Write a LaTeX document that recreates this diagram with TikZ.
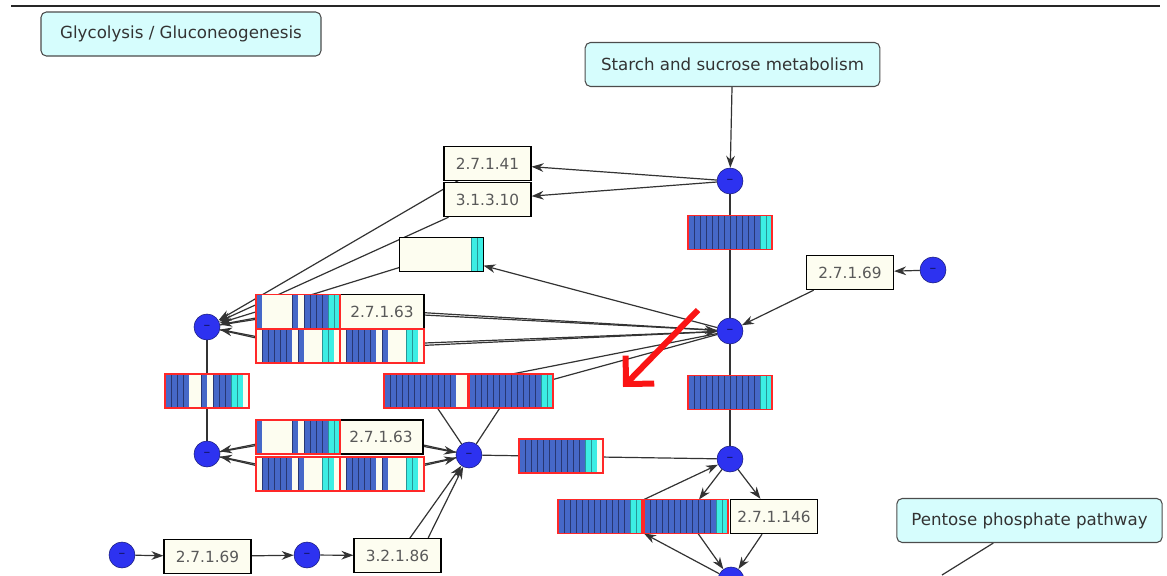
\documentclass[tikz,border=0pt]{standalone}
\usepackage{fontspec}
\setmainfont{DejaVu Sans}
\usetikzlibrary{arrows.meta,backgrounds}

\definecolor{kb}{RGB}{70,104,200}
\definecolor{lb}{RGB}{40,55,115}
\definecolor{kc}{RGB}{60,238,228}
\definecolor{lc}{RGB}{40,150,150}
\definecolor{kw}{RGB}{253,253,240}
\definecolor{lw}{RGB}{253,253,240}
\definecolor{metblue}{RGB}{45,50,240}
\definecolor{pwcyan}{RGB}{214,253,253}
\definecolor{barred}{RGB}{255,40,40}
\definecolor{markred}{RGB}{250,20,20}

\tikzset{
  pathway/.style={draw=black!70, fill=pwcyan, rounded corners=4pt, line width=0.8pt, text=black!80, font=\fontsize{12.5}{15}\selectfont, minimum height=33pt, inner sep=0pt},
  ec/.style={draw=black, fill=kw, line width=1.1pt, text=black!65, font=\fontsize{11.5}{14}\selectfont, minimum width=65pt, minimum height=25.5pt, inner sep=0pt},
  met/.style={circle, draw=black!50!metblue, fill=metblue, minimum size=19.5pt, inner sep=0pt, text=black!60!metblue, font=\normalsize},
  ecbar/.style={minimum width=63pt, minimum height=25.5pt, inner sep=0pt, outer sep=0pt},
  stripe/.style={fill=k#1, draw=l#1, line width=0.4pt},
  rxn/.style={draw=black!80, line width=0.9pt},
}

% bar of enzyme stripes: [border colour]{name}{x}{y}{stripe list}
\newcommand{\ecbar}[5][barred]{%
  \node[ecbar] (#2) at (#3,#4) {};
  \begin{scope}[shift={(#2.north west)}]
    \foreach \s [count=\i from 0] in {#5}
      \path[stripe=\s] (\i*6,0) rectangle ++(6,34);
  \end{scope}
  \draw[draw=#1, line width=1pt] (#2.north west) rectangle (#2.south east);
}

\begin{document}
\begin{tikzpicture}[x=0.75pt,y=0.75pt,yscale=-1,xscale=1,>={Stealth[length=9pt,width=6.5pt]}]
\useasboundingbox (0,0) rectangle (1167,575);
\clip (0,0) rectangle (1167,575);

%Straight Lines: rule at the top
\draw[black!85, line width=1.5pt] (11,6) -- (1160,6);

% Pathway boxes
\node[pathway, minimum width=210pt] (glyco) at (181,34) {Glycolysis / Gluconeogenesis};
\node[pathway, minimum width=221pt] (starch) at (732.5,64.5) {Starch and sucrose metabolism};
\node[pathway, minimum width=199pt] (pentose) at (1029.5,520.5) {Pentose phosphate pathway};

% Compounds
\node[met] (c1) at (730,181) {\textendash};
\node[met] (c2) at (933,270) {\textendash};
\node[met] (c3) at (730,331) {\textendash};
\node[met] (c4) at (207,327) {\textendash};
\node[met] (c5) at (207,454) {\textendash};
\node[met] (c6) at (469,455) {\textendash};
\node[met] (c7) at (730,459) {\textendash};
\node[met] (c8) at (731,580) {};
\node[met] (c9) at (122,555) {\textendash};
\node[met] (c10) at (307,555) {\textendash};

% Enzyme boxes
\node[ec] (ec41) at (487.5,163.5) {2.7.1.41};
\node[ec] (ec10) at (487.5,199.5) {3.1.3.10};
\node[ec] (ec69r) at (850,272.5) {2.7.1.69};
\node[ec, minimum width=63pt] (ec63a) at (382,311.5) {2.7.1.63};
\node[ec, minimum width=63pt] (ec63b) at (381,437) {2.7.1.63};
\node[ec] (ec146) at (774,516.5) {2.7.1.146};
\node[ec] (ec69b) at (207.5,556.5) {2.7.1.69};
\node[ec] (ec86) at (397.5,555.5) {3.2.1.86};

% Enzyme bars
\ecbar{barA}{730}{232.5}{b,b,b,b,b,b,b,b,b,b,b,b,c,c}
\ecbar[black]{barB}{441.5}{254.5}{w,w,w,w,w,w,w,w,w,w,w,w,c,c}
\ecbar{barC}{298}{311.5}{b,w,w,w,w,w,b,w,b,b,b,b,c,c}
\ecbar{barD1}{298}{346}{w,b,b,b,b,b,w,b,w,w,w,c,c,w}
\ecbar{barD2}{382}{346}{w,b,b,b,b,b,w,b,w,w,w,c,c,w}
\ecbar{barE}{207}{391}{b,b,b,b,w,w,b,w,b,b,b,c,c,w}
\ecbar{barF1}{426}{391}{b,b,b,b,b,b,b,b,b,b,b,b,w,w}
\ecbar{barF2}{511}{391}{b,b,b,b,b,b,b,b,b,b,b,b,c,c}
\ecbar{barG}{730}{392.5}{b,b,b,b,b,b,b,b,b,b,b,b,c,c}
\ecbar{barH}{298}{437}{b,w,w,w,w,w,b,w,b,b,b,b,c,c}
\ecbar{barI1}{298}{474}{w,b,b,b,b,b,w,b,w,w,w,c,c,w}
\ecbar{barI2}{382}{474}{w,b,b,b,b,b,w,b,w,w,w,c,c,w}
\ecbar{barJ}{561}{456}{b,b,b,b,b,b,b,b,b,b,b,c,c,w}
\ecbar{barK1}{600}{516.5}{b,b,b,b,b,b,b,b,b,b,b,b,c,c}
\ecbar{barK2}{686}{516.5}{b,b,b,b,b,b,b,b,b,b,b,b,c,c}

% Reactions
\begin{scope}[on background layer]
  \draw[rxn,->] (starch) -- (c1);
  \draw[rxn,->] (c1) -- (ec41);
  \draw[rxn,->] (c1) -- (ec10);
  \draw[rxn,->] (ec41.center) -- (c4);
  \draw[rxn,->] (ec10) -- (c4);
  \draw[rxn] (c1) -- (c3);
  \draw[rxn] (c3) -- (c7);
  \draw[rxn,->] (c2) -- (ec69r);
  \draw[rxn,->] (ec69r) -- (c3);
  \draw[rxn,->] (c3) -- (barB);
  \draw[rxn,->] (barB) -- (c4);
  \draw[rxn,->] (c4) -- ([yshift=1pt]barC.center) -- ([yshift=1pt]ec63a.center) -- (c3);
  \draw[rxn,<-] (c4) -- ([yshift=-1pt]barC.center) -- ([yshift=-1pt]ec63a.center) -- (c3);
  \draw[rxn,->] (c4) -- ([yshift=1pt]barD1.center) -- ([yshift=1pt]barD2.center) -- (c3);
  \draw[rxn,<-] (c4) -- ([yshift=-1pt]barD1.center) -- ([yshift=-1pt]barD2.center) -- (c3);
  \draw[rxn] (c6) -- (barF1.center) -- (c3);
  \draw[rxn] (c6) -- (barF2.center) -- (c3);
  \draw[rxn] (c4) -- (c5);
  \draw[rxn,->] (c5) -- ([yshift=1pt]barH.center) -- ([yshift=1pt]ec63b.center) -- (c6);
  \draw[rxn,<-] (c5) -- ([yshift=-1pt]barH.center) -- ([yshift=-1pt]ec63b.center) -- (c6);
  \draw[rxn,->] (c5) -- ([yshift=1pt]barI1.center) -- ([yshift=1pt]barI2.center) -- (c6);
  \draw[rxn,<-] (c5) -- ([yshift=-1pt]barI1.center) -- ([yshift=-1pt]barI2.center) -- (c6);
  \draw[rxn] (c6) -- (c7);
  \draw[rxn,->] (c7) -- (barK2);
  \draw[rxn,->] (barK2) -- (c8);
  \draw[rxn,->] (c7) -- (ec146);
  \draw[rxn,->] (ec146) -- (c8);
  \draw[rxn,->] (c8) -- (barK2.south west);
  \draw[rxn,->] (barK2.north west) -- (c7);
  \draw[rxn,->] (c9) -- (ec69b);
  \draw[rxn,->] (ec69b) -- (c10);
  \draw[rxn,->] (c10) -- (ec86);
  \draw[rxn,->] (ec86.center) -- (c6);
  \draw[rxn,->] (ec86.30) -- (c6);
  \coordinate (pwend) at (942,575);
  \draw[rxn] (pentose) -- (pwend);
\end{scope}

% Red marker arrow
\coordinate (marktail) at (698,310);
\coordinate (marktip) at (623,387);
\draw[markred, line width=4.5pt, -{Straight Barb[length=15pt,width=30pt]}] (marktail) -- (marktip);

\end{tikzpicture}
\end{document}
